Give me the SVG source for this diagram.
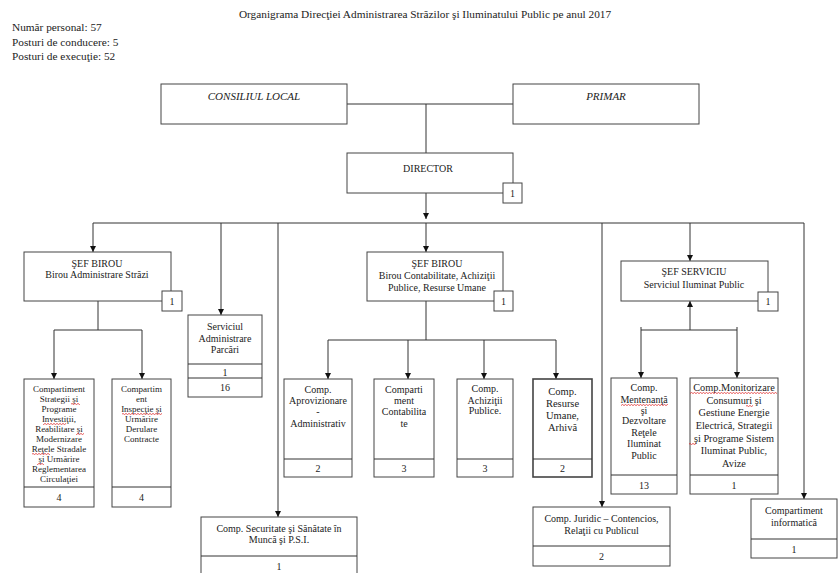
<svg xmlns="http://www.w3.org/2000/svg" width="840" height="573" viewBox="0 0 840 573" font-family="'Liberation Serif', 'DejaVu Serif', serif">
<style>
.b{fill:#fff;stroke:#444;stroke-width:1}
.t{font-family:'Liberation Serif','DejaVu Serif',serif;font-size:10px;fill:#222;text-anchor:middle}
.s{font-size:9px}
.h{font-size:11.3px;text-anchor:start}
.i{font-style:italic;font-size:11px}
.c{stroke:#333;stroke-width:1;fill:none}
.a{marker-end:url(#ar)}
.w{fill:url(#wave)}
</style>
<defs>
<marker id="ar" markerWidth="7" markerHeight="7" refX="6" refY="3" orient="auto" markerUnits="userSpaceOnUse"><path d="M0,0 L6,3 L0,6 z" fill="#111"/></marker>
<pattern id="wave" width="3" height="2" patternUnits="userSpaceOnUse"><path d="M0,2 L1.5,0 L3,2" fill="none" stroke="#d22" stroke-width="0.6"/></pattern>
</defs>
<rect width="840" height="573" fill="#fff"/>
<g id="header">
<text class="t" x="425" y="18" style="font-size:11.3px">Organigrama Direcţiei Administrarea Străzilor şi Iluminatului Public pe anul 2017</text>
<text class="t h" x="12" y="31">Număr personal: 57</text>
<text class="t h" x="12" y="46">Posturi de conducere: 5</text>
<text class="t h" x="12" y="60">Posturi de execuţie: 52</text>
</g>
<g id="connectors">
<path class="c" d="M347,104 H513 M426,104 V153"/>
<path class="c a" d="M426,193 V219"/>
<path class="c" d="M93,223 H804"/>
<path class="c a" d="M93,223 V252"/>
<path class="c a" d="M221,223 V315"/>
<path class="c a" d="M278,223 V517"/>
<path class="c a" d="M426,223 V252"/>
<path class="c a" d="M602,223 V507"/>
<path class="c a" d="M690,223 V261"/>
<path class="c a" d="M804,223 V499"/>
<path class="c" d="M98,301 V330 M54,330 H142"/>
<path class="c a" d="M54,330 V379"/>
<path class="c a" d="M142,330 V379"/>
<path class="c" d="M426,301 V340 M328,340 H556"/>
<path class="c a" d="M328,340 V379"/>
<path class="c a" d="M408,340 V379"/>
<path class="c a" d="M484,340 V379"/>
<path class="c a" d="M556,340 V379"/>
<path class="c a" d="M690,330 V301"/>
<path class="c" d="M641,330 H737 M641,327 V330 M737,327 V330"/>
<path class="c a" d="M641,330 V378"/>
<path class="c a" d="M737,330 V378"/>
</g>
<g id="consiliul">
<rect class="b" x="161" y="84" width="186" height="40"/>
<text class="t i" x="254" y="100">CONSILIUL LOCAL</text>
</g>
<g id="primar">
<rect class="b" x="513" y="84" width="186" height="40"/>
<text class="t i" x="606" y="100">PRIMAR</text>
</g>
<g id="director">
<rect class="b" x="347" y="153" width="166" height="40"/>
<text class="t" x="428" y="172">DIRECTOR</text>
<rect class="b" x="503" y="183" width="19" height="20"/>
<text class="t" x="512.5" y="197">1</text>
</g>
<g id="sef-birou-strazi">
<rect class="b" x="24" y="252" width="147" height="49"/>
<text class="t" x="97" y="267">ŞEF BIROU</text>
<text class="t" x="97" y="278">Birou Administrare Străzi</text>
<rect class="b" x="162" y="291" width="20" height="20"/>
<text class="t" x="172" y="305">1</text>
</g>
<g id="sef-birou-contabilitate">
<rect class="b" x="367" y="252" width="136" height="49"/>
<text class="t" x="437" y="267">ŞEF BIROU</text>
<text class="t" x="437" y="279">Birou Contabilitate, Achiziţii</text>
<text class="t" x="437" y="291">Publice, Resurse Umane</text>
<rect class="b" x="494" y="291" width="19" height="20"/>
<text class="t" x="503.5" y="305">1</text>
</g>
<g id="sef-serviciu">
<rect class="b" x="621" y="261" width="147" height="40"/>
<text class="t" x="694" y="275">ŞEF SERVICIU</text>
<text class="t" x="694" y="288">Serviciul Iluminat Public</text>
<rect class="b" x="758" y="292" width="20" height="19"/>
<text class="t" x="768" y="305">1</text>
</g>
<g id="comp-strategii">
<rect class="b" x="24" y="379" width="70" height="128"/>
<path class="c" d="M24,487 H94"/>
<text class="t s" x="59" y="392">Compartiment</text>
<text class="t s" x="59" y="402">Strategii şi</text>
<text class="t s" x="59" y="412">Programe</text>
<text class="t s" x="59" y="422">Investiţii,</text>
<text class="t s" x="59" y="432">Reabilitare şi</text>
<text class="t s" x="59" y="442">Modernizare</text>
<text class="t s" x="59" y="452">Reţele Stradale</text>
<text class="t s" x="59" y="462">şi Urmărire</text>
<text class="t s" x="59" y="472">Reglementarea</text>
<text class="t s" x="59" y="482">Circulaţiei</text>
<text class="t" x="59" y="501">4</text>
<rect class="w" x="71" y="403" width="9" height="2"/>
<rect class="w" x="43" y="423" width="23" height="2"/>
<rect class="w" x="76" y="433" width="8" height="2"/>
<rect class="w" x="32" y="453" width="18" height="2"/>
<rect class="w" x="37" y="463" width="7" height="2"/>
</g>
<g id="comp-inspectie">
<rect class="b" x="112" y="379" width="59" height="128"/>
<path class="c" d="M112,487 H171"/>
<text class="t s" x="141.5" y="392">Compartim</text>
<text class="t s" x="141.5" y="402">ent</text>
<text class="t s" x="141.5" y="412">Inspecţie şi</text>
<text class="t s" x="141.5" y="422">Urmărire</text>
<text class="t s" x="141.5" y="432">Derulare</text>
<text class="t s" x="141.5" y="442">Contracte</text>
<text class="t" x="141.5" y="501">4</text>
<rect class="w" x="122" y="413" width="40" height="2"/>
</g>
<g id="serviciul-parcari">
<rect class="b" x="188" y="315" width="74" height="82"/>
<path class="c" d="M188,364 H262 M188,378 H262"/>
<text class="t" x="225" y="330">Serviciul</text>
<text class="t" x="225" y="342">Administrare</text>
<text class="t" x="225" y="353">Parcări</text>
<text class="t" x="225" y="376">1</text>
<text class="t" x="225" y="391">16</text>
</g>
<g id="comp-securitate">
<rect class="b" x="201" y="517" width="156" height="62"/>
<path class="c" d="M201,556 H357"/>
<text class="t" x="279" y="532">Comp. Securitate şi Sănătate în</text>
<text class="t" x="279" y="543">Muncă şi P.S.I.</text>
<text class="t" x="279" y="570">1</text>
</g>
<g id="comp-aprovizionare">
<rect class="b" x="284" y="379" width="68" height="98"/>
<path class="c" d="M284,459 H352"/>
<text class="t" x="318" y="393">Comp.</text>
<text class="t" x="318" y="404">Aprovizionare</text>
<text class="t" x="318" y="415">-</text>
<text class="t" x="318" y="427">Administrativ</text>
<text class="t" x="318" y="472">2</text>
</g>
<g id="comp-contabilitate">
<rect class="b" x="374" y="379" width="60" height="98"/>
<path class="c" d="M374,459 H434"/>
<text class="t" x="404" y="393">Comparti</text>
<text class="t" x="404" y="404">ment</text>
<text class="t" x="404" y="415">Contabilita</text>
<text class="t" x="404" y="427">te</text>
<text class="t" x="404" y="472">3</text>
</g>
<g id="comp-achizitii">
<rect class="b" x="457" y="379" width="56" height="98"/>
<path class="c" d="M457,459 H513"/>
<text class="t" x="485" y="392">Comp.</text>
<text class="t" x="485" y="404">Achiziţii</text>
<text class="t" x="485" y="414">Publice.</text>
<text class="t" x="485" y="472">3</text>
</g>
<g id="comp-resurse">
<rect class="b" x="533" y="379" width="59" height="98" style="stroke-width:1.6"/>
<path class="c" d="M533,459 H592"/>
<text class="t" x="562.5" y="395" style="font-size:10.5px">Comp.</text>
<text class="t" x="562.5" y="407" style="font-size:10.5px">Resurse</text>
<text class="t" x="562.5" y="419" style="font-size:10.5px">Umane,</text>
<text class="t" x="562.5" y="431" style="font-size:10.5px">Arhivă</text>
<text class="t" x="562.5" y="472">2</text>
</g>
<g id="comp-juridic">
<rect class="b" x="533" y="507" width="137" height="59"/>
<path class="c" d="M533,546 H670"/>
<text class="t" x="601.5" y="522">Comp. Juridic – Contencios,</text>
<text class="t" x="601.5" y="534">Relaţii cu Publicul</text>
<text class="t" x="601.5" y="560">2</text>
</g>
<g id="comp-mentenanta">
<rect class="b" x="611" y="378" width="66" height="116"/>
<path class="c" d="M611,475 H677"/>
<text class="t" x="644" y="391">Comp.</text>
<text class="t" x="644" y="403">Mentenanţă</text>
<text class="t" x="644" y="414">şi</text>
<text class="t" x="644" y="424">Dezvoltare</text>
<text class="t" x="644" y="436">Reţele</text>
<text class="t" x="644" y="447">Iluminat</text>
<text class="t" x="644" y="459">Public</text>
<text class="t" x="644" y="489">13</text>
<rect class="w" x="621" y="404" width="47" height="2"/>
</g>
<g id="comp-monitorizare">
<rect class="b" x="690" y="378" width="88" height="116"/>
<path class="c" d="M690,475 H778"/>
<text class="t" x="734" y="391" style="font-size:10.3px">Comp.Monitorizare</text>
<text class="t" x="734" y="404" style="font-size:10.3px">Consumuri şi</text>
<text class="t" x="734" y="416" style="font-size:10.3px">Gestiune Energie</text>
<text class="t" x="734" y="429" style="font-size:10.3px">Electrică, Strategii</text>
<text class="t" x="734" y="442" style="font-size:10.3px">şi Programe Sistem</text>
<text class="t" x="734" y="454" style="font-size:10.3px">Iluminat Public,</text>
<text class="t" x="734" y="467" style="font-size:10.3px">Avize</text>
<text class="t" x="734" y="489">1</text>
<rect class="w" x="690" y="392" width="87" height="2"/>
<rect class="w" x="746" y="405" width="7" height="2"/>
<rect class="w" x="689" y="443" width="7" height="2"/>
</g>
<g id="comp-informatica">
<rect class="b" x="751" y="499" width="86" height="59"/>
<path class="c" d="M751,539 H837"/>
<text class="t" x="794" y="514">Compartiment</text>
<text class="t" x="794" y="526">informatică</text>
<text class="t" x="794" y="553">1</text>
</g>
</svg>
